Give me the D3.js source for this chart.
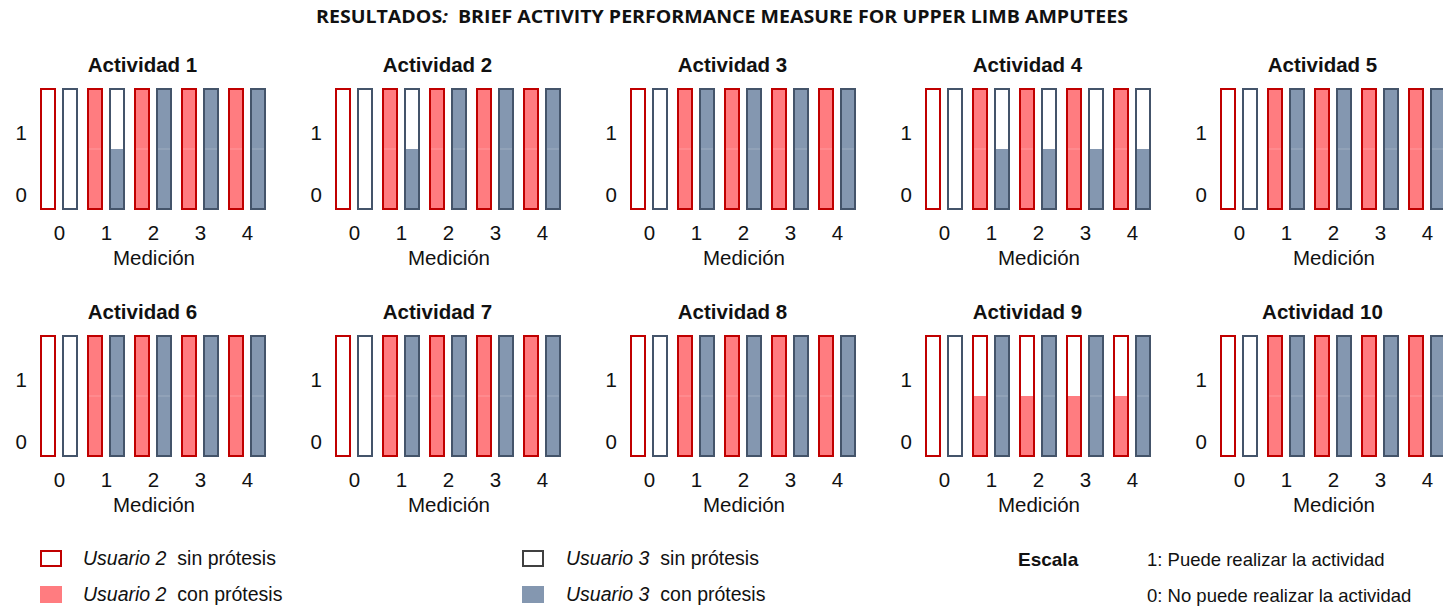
<!DOCTYPE html>
<html><head><meta charset="utf-8">
<script src="https://cdn.jsdelivr.net/npm/d3@7"></script>
<style>
body{margin:0;background:#fff;}
svg{display:block;font-family:Arial,"Liberation Sans",sans-serif;}
</style>
</head><body>
<svg id="chart" width="1443" height="607"></svg>
<script>
// ---------- data ----------
const activities = ["Actividad 1","Actividad 2","Actividad 3","Actividad 4","Actividad 5",
                    "Actividad 6","Actividad 7","Actividad 8","Actividad 9","Actividad 10"];
const mediciones = ["0","1","2","3","4"];
const seriesNames = ["Usuario 2","Usuario 3"];
// fill level of each bar (1 = full, 0.5 = partial, 0 = empty) per activity, per medición
const usuario2 = [
  [0,1,1,1,1],
  [0,1,1,1,1],
  [0,1,1,1,1],
  [0,1,1,1,1],
  [0,1,1,1,1],
  [0,1,1,1,1],
  [0,1,1,1,1],
  [0,1,1,1,1],
  [0,0.5,0.5,0.5,0.5],
  [0,1,1,1,1]
];
const usuario3 = [
  [0,0.5,1,1,1],
  [0,0.5,1,1,1],
  [0,1,1,1,1],
  [0,0.5,0.5,0.5,0.5],
  [0,1,1,1,1],
  [0,1,1,1,1],
  [0,1,1,1,1],
  [0,1,1,1,1],
  [0,1,1,1,1],
  [0,1,1,1,1]
];
const yTickValues = [0,1];
const legendItems = [
  {user:"Usuario 2", text:"sin prótesis", series:0, filled:false},
  {user:"Usuario 2", text:"con prótesis", series:0, filled:true},
  {user:"Usuario 3", text:"sin prótesis", series:1, filled:false},
  {user:"Usuario 3", text:"con prótesis", series:1, filled:true}
];
const scaleTitle = "Escala";
const scaleLines = ["1: Puede realizar la actividad","0: No puede realizar la actividad"];
const titleMain = "RESULTADOS";
const titleRest = "  BRIEF ACTIVITY PERFORMANCE MEASURE FOR UPPER LIMB AMPUTEES";
const xLabel = "Medición";

// ---------- styles ----------
const strokeCol = ["#c00000","#44546a"];
const fillCol = ["#ff7c80","#8497b0"];
const FS = 20.5;

const svg = d3.select("#chart");

// title
const t = svg.append("text")
  .attr("x",722).attr("y",23)
  .attr("text-anchor","middle")
  .attr("font-family","'Open Sans','Liberation Sans',sans-serif")
  .attr("font-weight","bold").attr("font-size",17)
  .attr("textLength",812).attr("lengthAdjust","spacingAndGlyphs")
  .attr("fill","#111");
t.append("tspan").text(titleMain);
t.append("tspan").attr("font-style","italic").text(":");
t.append("tspan").attr("xml:space","preserve").text(titleRest);

// scales (panel-local coordinates)
const xPoint = d3.scalePoint().domain(mediciones).range([59,247]);
const xSub = d3.scaleBand().domain(seriesNames).range([-19,19]).paddingInner(6/22);
const yFill = d3.scaleLinear().domain([0,1]).range([209,89]);
const yAxisScale = d3.scaleLinear().domain([0,1]).range([195,133]);

activities.forEach((name,i)=>{
  const col = i%5, row = Math.floor(i/5);
  const g = svg.append("g").attr("transform",`translate(${col*295},${row*247})`);

  g.append("text").attr("x",142.5).attr("y",72)
    .attr("text-anchor","middle").attr("font-weight","bold")
    .attr("font-size",FS).attr("fill","#111").text(name);

  const data = [];
  mediciones.forEach((m,j)=>{
    data.push({m, s:0, v:usuario2[i][j]});
    data.push({m, s:1, v:usuario3[i][j]});
  });

  const bw = xSub.bandwidth();
  const bars = g.selectAll("g.bar").data(data).enter().append("g").attr("class","bar")
    .attr("transform",d=>`translate(${xPoint(d.m)+xSub(seriesNames[d.s])},0)`);

  bars.filter(d=>d.v>0).append("rect")
    .attr("x",1).attr("width",bw-2)
    .attr("y",d=>yFill(d.v)).attr("height",d=>yFill(0)-yFill(d.v))
    .attr("fill",d=>fillCol[d.s]);
  bars.filter(d=>d.v>0.5).append("line")
    .attr("x1",1).attr("x2",bw-1)
    .attr("y1",yFill(0.5)).attr("y2",yFill(0.5))
    .attr("stroke","rgba(255,255,255,0.22)").attr("stroke-width",1);
  bars.append("rect")
    .attr("x",1).attr("width",bw-2)
    .attr("y",yFill(1)).attr("height",yFill(0)-yFill(1))
    .attr("fill","none").attr("stroke",d=>strokeCol[d.s]).attr("stroke-width",2);

  const ya = g.append("g").attr("transform","translate(30,0)")
    .call(d3.axisLeft(yAxisScale).tickValues(yTickValues).tickSize(0).tickPadding(3).tickFormat(d3.format("d")));
  ya.select(".domain").remove();
  ya.selectAll("text").attr("font-size",FS).attr("font-family","Arial,'Liberation Sans',sans-serif").attr("fill","#111");

  const xa = g.append("g").attr("transform","translate(0,219)")
    .call(d3.axisBottom(xPoint).tickSize(0).tickPadding(6));
  xa.select(".domain").remove();
  xa.selectAll("text").attr("font-size",FS).attr("font-family","Arial,'Liberation Sans',sans-serif").attr("fill","#111");

  g.append("text").attr("x",154).attr("y",265)
    .attr("text-anchor","middle").attr("font-size",FS).attr("fill","#111").text(xLabel);
});

// legend
const legendPos = [
  {x:40,y:550},{x:40,y:586},{x:522,y:550},{x:522,y:586}
];
legendItems.forEach((it,k)=>{
  const p = legendPos[k];
  const g = svg.append("g").attr("transform",`translate(${p.x},${p.y})`);
  if(it.filled){
    g.append("rect").attr("x",0).attr("y",0).attr("width",22).attr("height",17)
      .attr("fill",fillCol[it.series]);
  } else {
    g.append("rect").attr("x",1).attr("y",1).attr("width",20).attr("height",15)
      .attr("fill","none").attr("stroke",it.series===0?strokeCol[0]:"#404040").attr("stroke-width",2);
  }
  const tx = g.append("text").attr("x",k<2?43:44).attr("y",15).attr("font-size",19.5).attr("fill","#111");
  tx.append("tspan").attr("font-style","italic").text(it.user);
  tx.append("tspan").attr("xml:space","preserve").text("  "+it.text);
});
svg.append("text").attr("x",1018).attr("y",566).attr("font-weight","bold")
  .attr("font-size",19).attr("fill","#111").text(scaleTitle);
scaleLines.forEach((s,k)=>{
  svg.append("text").attr("x",1147).attr("y",566+k*36).attr("font-size",18.5)
    .attr("fill","#111").text(s);
});
</script>
</body></html>
